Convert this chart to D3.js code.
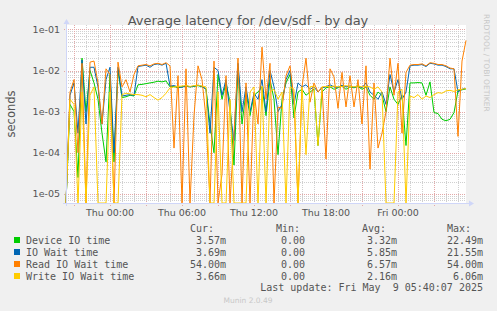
<!DOCTYPE html>
<html>
<head>
<meta charset="utf-8">
<script src="https://cdn.jsdelivr.net/npm/d3@7"></script>
<style>
  body { margin: 0; background: #f0f0f0; }
  svg { display: block; }
</style>
</head>
<body>
<script>
var width = 497
var height = 311

// samples every 20 minutes, Wed 20:20 -> Fri 05:40, values in milliseconds
var startTime = new Date(2025, 4, 7, 20, 20)
var stepMinutes = 20

var deviceIO = [0, 1.5, 1, 0.025, 20, 1, 10, 5, 2, 0.3, 0.06, 8, 0.06, 10, 2.2, 2.3, 2.5, 2.4,
  4.5, 4.6, 4.8, 5.0, 5.2, 5.5, 5.3, 5.6, 4, 4.1, 3.8, 4, 4.2, 4, 4.1, 4.3, 4, 3.6,
  0.5, 0.1, 8, 2, 5, 1.7, 0.05, 12, 0.5, 3, 0.8, 2.5, 3, 4, 0.8, 6, 2, 0.09, 2, 5, 8, 0.7, 3,
  3.5, 2.5, 3, 3.5, 0.15, 3, 3.8, 4, 3.5, 3.8, 4.2, 3.5, 4, 3.8, 4.1, 3.5, 4,
  2.5, 2, 3, 2.5, 1, 4, 2, 1.5, 2.5, 0.15,
  5, 5, 5.1, 5, 2.5, 5.3, 0.95, 0.9, 0.65, 0.6, 0.65, 0.95, 3.2, 3.4, 3.57]

var ioWait = [0, 2.5, 5, 0.3, 18, 0.5, 12, 12, 4, 0.5, 6, 12, 0.1, 12, 2.4, 2.5, 2.6, 2.5,
  12.5, 13, 13.5, 12, 14, 14.5, 13.5, 15, 4.2, 4.3, 4, 3.9, 4.3, 4, 4.2, 4.4, 4.1, 3.5,
  0.3, 12, 10, 2.5, 6, 1, 0.2, 15, 1, 4, 1, 2.8, 2, 6, 1, 10, 4, 1, 1.5, 6, 10, 1.5, 5,
  4, 4.5, 3.5, 4, 3, 3.8, 4, 4.5, 4, 3.9, 4.4, 4, 4.2, 3.9, 4.3, 3.8, 5,
  3, 2.5, 2, 3, 1.5, 8, 3, 6, 2, 3,
  13, 13.5, 13.5, 14, 12.5, 15, 14.5, 13.5, 13.5, 12.5, 11, 11, 3, 3.5, 3.69]

var readWait = [0, 3, 6, 0.1, 15, 0, 16, 17, 5, 0.5, 11, 8, 0, 16, 4, 6, 3, 8,
  13, 13.5, 14, 13, 14.5, 15, 14, 15.5, 13, 0.13, 7.5, 0, 11, 0, 0.8, 13, 6, 0.7,
  0, 17, 0, 0.03, 7.5, 0, 0.3, 20, 0, 5, 0, 3, 0.5, 37, 2, 15, 0, 1.3, 1.2, 7.5, 13, 2, 0,
  4, 20, 1.7, 5, 3, 4, 0.07, 11, 7, 1.2, 9, 1.3, 7.5, 1.3, 6, 0.5, 13,
  0.04, 5, 0.13, 0.3, 1, 20, 2.5, 15, 0.3, 9,
  13.5, 14, 14, 14.5, 13, 15.5, 15, 14, 14, 13, 11.5, 11, 0.25, 17, 54]

var writeWait = [0, 2, 1.5, 0, 3, 0, 2.5, 4, 0, 0, 0, 3, 0, 0, 2.6, 2.8, 2.7, 2.6,
  2.6, 2.5, 2.3, 2.6, 2.2, 1.9, 2.2, 2.8, 3.8, 4, 4.1, 4.2, 4.3, 4.1, 4.3, 4.4, 4.2, 4,
  0, 0, 3, 0, 0, 2, 0, 0, 0, 0, 3, 4, 0, 4.2, 0, 3, 3.5, 2, 3, 0, 4, 3.5, 0,
  4, 0.09, 4, 4.2, 0.15, 4, 4.1, 4, 4.2, 4, 4.1, 4.3, 4.1, 4, 4.2, 4, 4.1,
  4, 3.5, 4, 3, 0, 0, 0, 3, 3.5, 0,
  2.4, 2.2, 2.6, 2.0, 2.4, 2.2, 2.6, 2.9, 2.8, 3.2, 3.3, 3.1, 3.4, 3.5, 3.66]

var seriesNames = ['Device IO time', 'IO Wait time', 'Read IO Wait time', 'Write IO Wait time']
var curLabels = ['3.57m', '3.69m', '54.00m', '3.66m']
var minLabels = ['0.00', '0.00', '0.00', '0.00']
var avgLabels = ['3.32m', '5.85m', '6.57m', '2.16m']
var maxLabels = ['22.49m', '21.55m', '54.00m', '6.06m']

var colors = ['#00cc00', '#0066b3', '#ff8000', '#ffcc00']
var series = [deviceIO, ioWait, readWait, writeWait]

var plotL = 66, plotR = 466, plotT = 25, plotB = 203
var endTime = new Date(startTime.getTime() + (deviceIO.length - 1) * stepMinutes * 60000)

var x = d3.scaleTime().domain([startTime, endTime]).range([plotL, plotR])
var y = d3.scaleLog().domain([6e-6, 0.128]).range([plotB, plotT]).clamp(true)

var svg = d3.select('body').append('svg')
    .attr('width', width)
    .attr('height', height)
    .style('font-family', 'DejaVu Sans, sans-serif')

svg.append('rect').attr('width', width).attr('height', height).attr('fill', '#f0f0f0')
svg.append('rect')
    .attr('x', plotL).attr('y', plotT)
    .attr('width', plotR - plotL).attr('height', plotB - plotT)
    .attr('fill', '#ffffff')

// horizontal grid (log)
var minorY = [], majorY = []
for (var e = -6; e <= 0; e++) {
  for (var m = 1; m <= 9; m++) {
    var v = m * Math.pow(10, e)
    if (v < y.domain()[0] || v > y.domain()[1]) continue
    if (m === 1) majorY.push(v); else minorY.push(v)
  }
}
var grid = svg.append('g').attr('shape-rendering', 'crispEdges')
grid.selectAll('.hmin').data(minorY).enter().append('line')
    .attr('x1', plotL).attr('x2', plotR)
    .attr('y1', function (d) { return Math.round(y(d)) + 0.5 })
    .attr('y2', function (d) { return Math.round(y(d)) + 0.5 })
    .attr('stroke', '#d0d0d0').attr('stroke-dasharray', '1,1')

// vertical grid, hourly / 3-hourly
var hours = d3.timeHour.range(d3.timeHour.ceil(startTime), endTime)
grid.selectAll('.vmin').data(hours.filter(function (d) { return d.getHours() % 3 !== 0 })).enter().append('line')
    .attr('x1', function (d) { return Math.round(x(d)) + 0.5 })
    .attr('x2', function (d) { return Math.round(x(d)) + 0.5 })
    .attr('y1', plotT).attr('y2', plotB)
    .attr('stroke', '#d0d0d0').attr('stroke-dasharray', '1,1')

grid.selectAll('.hmaj').data(majorY).enter().append('line')
    .attr('x1', plotL - 2).attr('x2', plotR)
    .attr('y1', function (d) { return Math.round(y(d)) + 0.5 })
    .attr('y2', function (d) { return Math.round(y(d)) + 0.5 })
    .attr('stroke', '#e3a8a8').attr('stroke-dasharray', '1,1')

var majorX = hours.filter(function (d) { return d.getHours() % 3 === 0 })
grid.selectAll('.vmaj').data(majorX).enter().append('line')
    .attr('x1', function (d) { return Math.round(x(d)) + 0.5 })
    .attr('x2', function (d) { return Math.round(x(d)) + 0.5 })
    .attr('y1', plotT).attr('y2', plotB + 3)
    .attr('stroke', '#e3a8a8').attr('stroke-dasharray', '1,1')

// series lines
var line = d3.line()
    .x(function (d, i) { return x(new Date(startTime.getTime() + i * stepMinutes * 60000)) })
    .y(function (d) { return d > 0 ? y(d / 1000) : plotB })

svg.append('g').selectAll('path').data(series).enter().append('path')
    .attr('d', line)
    .attr('fill', 'none')
    .attr('stroke', function (d, i) { return colors[i] })
    .attr('stroke-width', 1)

// axes
var axisColor = '#cfd6f8'
var ax = svg.append('g').attr('shape-rendering', 'crispEdges')
ax.append('line').attr('x1', plotL - 3).attr('x2', plotR + 4)
    .attr('y1', plotB + 0.5).attr('y2', plotB + 0.5).attr('stroke', axisColor)
ax.append('line').attr('x1', plotL + 0.5).attr('x2', plotL + 0.5)
    .attr('y1', plotB + 3).attr('y2', plotT - 2).attr('stroke', axisColor)
svg.append('path').attr('d', 'M' + (plotR + 3) + ',' + (plotB - 2.5) + 'l5,3l-5,3z').attr('fill', axisColor)
svg.append('path').attr('d', 'M' + (plotL - 2.5) + ',' + (plotT - 1) + 'l3,-5l3,5z').attr('fill', axisColor)

// tick labels
var fmtY = function (d) { return '1e-0' + (-Math.round(Math.log10(d))) }
svg.append('g').selectAll('text').data(majorY).enter().append('text')
    .attr('x', 60).attr('y', function (d) { return y(d) + 3.5 })
    .attr('text-anchor', 'end')
    .attr('font-size', '9.5px').attr('fill', '#555')
    .text(fmtY)

var fmtX = d3.timeFormat('%a %H:%M')
svg.append('g').selectAll('text').data(hours.filter(function (d) { return d.getHours() % 6 === 0 })).enter().append('text')
    .attr('x', function (d) { return x(d) }).attr('y', 216)
    .attr('text-anchor', 'middle')
    .attr('font-size', '9.5px').attr('fill', '#555')
    .text(fmtX)

// title and side labels
svg.append('text').attr('x', 248).attr('y', 24.5).attr('text-anchor', 'middle')
    .attr('font-size', '13px').attr('fill', '#555')
    .text('Average latency for /dev/sdf - by day')
svg.append('text').attr('transform', 'translate(15,114) rotate(-90)').attr('text-anchor', 'middle')
    .attr('font-size', '11.5px').attr('fill', '#555')
    .text('seconds')
svg.append('text').attr('transform', 'translate(484,14) rotate(90)')
    .attr('font-size', '7.6px').attr('fill', '#c8c8c8')
    .text('RRDTOOL / TOBI OETIKER')

// legend
var leg = svg.append('g').style('font-family', 'DejaVu Sans Mono, monospace').attr('font-size', '10px').attr('fill', '#555')
var colRight = [226, 305, 397, 483]
var headRight = [214, 300, 386, 471]
;['Cur:', 'Min:', 'Avg:', 'Max:'].forEach(function (h, j) {
  leg.append('text').attr('x', headRight[j]).attr('y', 231.5).attr('text-anchor', 'end').text(h)
})
var cols = [curLabels, minLabels, avgLabels, maxLabels]
seriesNames.forEach(function (name, i) {
  var by = 243.5 + i * 12
  leg.append('rect').attr('x', 14).attr('y', by - 6.5).attr('width', 6).attr('height', 6).attr('fill', colors[i])
  leg.append('text').attr('x', 26).attr('y', by).text(name)
  cols.forEach(function (c, j) {
    leg.append('text').attr('x', colRight[j]).attr('y', by).attr('text-anchor', 'end').text(c[i])
  })
})
leg.append('text').attr('x', 483).attr('y', 291).attr('text-anchor', 'end')
    .style('white-space', 'pre')
    .text('Last update: Fri May  9 05:40:07 2025')

svg.append('text').attr('x', 248).attr('y', 303).attr('text-anchor', 'middle')
    .attr('font-size', '7.5px').attr('fill', '#c8c8c8')
    .text('Munin 2.0.49')
</script>
</body>
</html>
